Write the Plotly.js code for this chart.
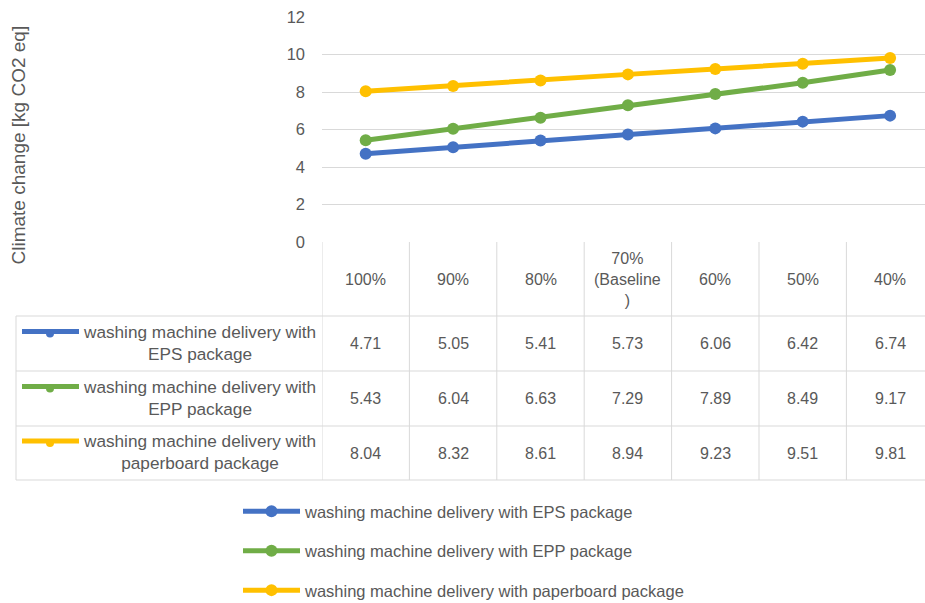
<!DOCTYPE html>
<html>
<head>
<meta charset="utf-8">
<script src="https://cdn.plot.ly/plotly-3.0.1.min.js"></script>
<style>html,body{margin:0;padding:0;background:#fff;}#chart{width:925px;height:603px;}</style>
</head>
<body>
<div id="chart"></div>
<script>
var categories = ["100%", "90%", "80%", "70%<br>(Baseline<br>)", "60%", "50%", "40%"];
var seriesNames = [
  "washing machine delivery with EPS package",
  "washing machine delivery with EPP package",
  "washing machine delivery with paperboard package"
];
var epsValues = [4.71, 5.05, 5.41, 5.73, 6.06, 6.42, 6.74];
var eppValues = [5.43, 6.04, 6.63, 7.29, 7.89, 8.49, 9.17];
var paperboardValues = [8.04, 8.32, 8.61, 8.94, 9.23, 9.51, 9.81];
var yTicks = [0, 2, 4, 6, 8, 10, 12];

var seriesValues = [epsValues, eppValues, paperboardValues];
var colors = ["#4472C4", "#70AD47", "#FFC000"];
var gray = "#595959";
var gridColor = "#D9D9D9";
var font = "Liberation Sans, Arial, sans-serif";
var fs = 16;

// pixel helpers for table layout (plot area: x 322..925, y 17..242)
var plotTop = 17, plotBottom = 242, plotLeft = 322, plotRight = 925;
function py(Y) { return (plotBottom - Y) / (plotBottom - plotTop); }
function px(X) { return (X - plotLeft) / (plotRight - plotLeft); }

var traces = seriesNames.map(function (name, i) {
  return {
    type: "scatter",
    mode: "lines+markers",
    name: name,
    legendgroup: "g" + i,
    x: categories,
    y: seriesValues[i],
    line: {color: colors[i], width: 5},
    marker: {color: colors[i], size: 12},
    hoverinfo: "skip"
  };
});

var shapes = [];
var annotations = [];
var tableBottom = 480;
var rowLines = [316, 371, 426, 480];
var rowCenters = [343.5, 398.5, 453];

for (var k = 0; k < categories.length; k++) {
  shapes.push({type: "line", xref: "x", yref: "paper", x0: k - 0.5, x1: k - 0.5,
    y0: 0, y1: py(tableBottom), line: {color: gridColor, width: 1}});
}
shapes.push({type: "line", xref: "paper", yref: "paper", x0: px(16), x1: px(16),
  y0: py(316), y1: py(tableBottom), line: {color: gridColor, width: 1}});
rowLines.forEach(function (Y) {
  shapes.push({type: "line", xref: "paper", yref: "paper", x0: px(16), x1: 1,
    y0: py(Y), y1: py(Y), line: {color: gridColor, width: 1}});
});

categories.forEach(function (c, i) {
  annotations.push({xref: "x", yref: "paper", x: i, y: py(279), text: c, showarrow: false,
    font: {family: font, size: fs, color: gray}, xanchor: "center", yanchor: "middle", align: "center"});
});

seriesNames.forEach(function (name, r) {
  var cut = name.indexOf("with ") + 4;
  var wrapped = name.slice(0, cut) + "<br>" + name.slice(cut + 1);
  annotations.push({xref: "paper", yref: "paper", x: px(199), y: py(rowCenters[r] - 1), text: wrapped,
    showarrow: false, font: {family: font, size: 17.2, color: gray}, xanchor: "center", yanchor: "middle",
    align: "center"});
  var ly = rowCenters[r] - 12;
  shapes.push({type: "line", xref: "paper", yref: "paper", x0: px(22), x1: px(79), y0: py(ly), y1: py(ly),
    line: {color: colors[r], width: 5}});
  shapes.push({type: "circle", xref: "paper", yref: "paper", x0: px(46), x1: px(54), y0: py(ly - 2), y1: py(ly + 6),
    fillcolor: colors[r], line: {width: 0}});
  seriesValues[r].forEach(function (v, i) {
    annotations.push({xref: "x", yref: "paper", x: i, y: py(rowCenters[r]), text: v.toFixed(2),
      showarrow: false, font: {family: font, size: fs, color: gray}, xanchor: "center", yanchor: "middle"});
  });
});

annotations.push({xref: "paper", yref: "paper", x: px(18), y: py(145.5), text: "Climate change [kg CO2 eq]",
  textangle: -90, showarrow: false, font: {family: font, size: 19, color: gray}, xanchor: "center", yanchor: "middle"});

var colWidth = 87.4;
var layout = {
  width: 925, height: 603,
  margin: {l: plotLeft, r: 0, t: plotTop, b: 603 - plotBottom, pad: 0, autoexpand: false},
  paper_bgcolor: "#fff", plot_bgcolor: "#fff",
  font: {family: font, color: gray},
  xaxis: {
    type: "category", categoryarray: categories,
    range: [-0.5, -0.5 + (plotRight - plotLeft) / colWidth],
    showticklabels: false, showgrid: false, zeroline: false, showline: false, ticks: "", fixedrange: true
  },
  yaxis: {
    range: [0, 12], tickvals: yTicks, ticktext: yTicks.map(String),
    showgrid: true, gridcolor: gridColor, gridwidth: 1, zeroline: false, showline: false,
    ticks: "", ticklabelstandoff: 16, tickfont: {family: font, size: 16.5, color: gray}, fixedrange: true
  },
  showlegend: true,
  legend: {
    orientation: "v", x: px(238), xanchor: "left", y: py(494), yanchor: "top",
    font: {family: font, size: 16.5, color: gray}, traceorder: "grouped", tracegroupgap: 15,
    itemwidth: 57, bgcolor: "rgba(0,0,0,0)"
  },
  shapes: shapes,
  annotations: annotations
};

Plotly.newPlot("chart", traces, layout, {displayModeBar: false, staticPlot: true});
</script>
</body>
</html>
